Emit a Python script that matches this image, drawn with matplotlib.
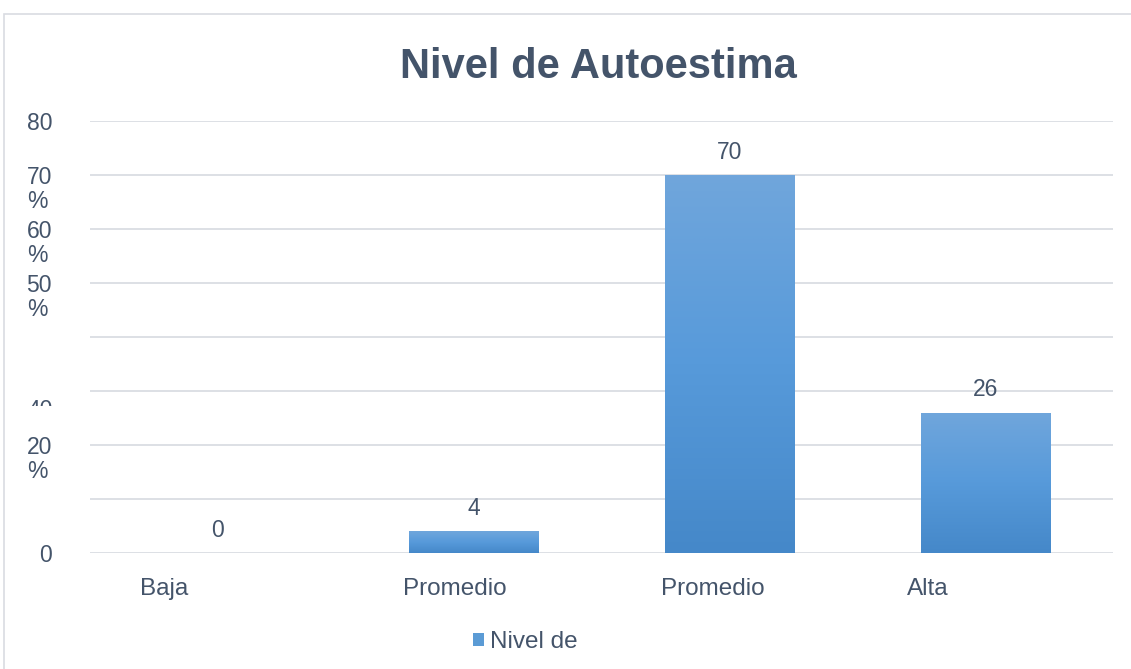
import numpy as np
import matplotlib
matplotlib.use("Agg")
from matplotlib import pyplot as plt
from matplotlib import transforms
from matplotlib.patches import Rectangle
from matplotlib.colors import LinearSegmentedColormap

# data
categories = ["Baja", "Promedio", "Promedio", "Alta"]
values = [0, 4, 70, 26]
series_name = "Nivel de"
title = "Nivel de Autoestima"

# y labels as they appear (broken layout of the original)
ylab_vals = [80, 70, 60, 50, 20, 0]
ylab_text = ["80", "70", "60", "50", "20", "0"]
ylab_pct = [False, True, True, True, True, False]

text_color = "#44546a"
grid_color = "#dadde3"
plt.rcParams['font.family'] = ['Liberation Sans', 'DejaVu Sans']

W, H = 1131, 669
fig = plt.figure(figsize=(W / 100, H / 100), dpi=100)
ax = fig.add_axes([90 / W, 1 - 553 / H, (1113 - 90) / W, (553 - 121) / H])

# outer chart border
fig.patches.append(Rectangle((4 / W, -0.1), 2, (H - 14) / H + 0.1, transform=fig.transFigure,
                             fill=False, edgecolor="#d9dce2", linewidth=1.2))

x = np.arange(len(categories))
bars = ax.bar(x, values, width=0.505, color="#5b9bd5", zorder=2)

# vertical gradient inside each bar
cmap = LinearSegmentedColormap.from_list("g", ["#4588c9", "#579ada", "#70a6dc"])
grad = np.linspace(0, 1, 256).reshape(-1, 1)
for b in bars:
    if b.get_height() <= 0:
        continue
    im = ax.imshow(grad, cmap=cmap, origin="lower", aspect="auto", zorder=3,
                   extent=(b.get_x(), b.get_x() + b.get_width(), 0, b.get_height()))
    im.set_clip_path(b)

ax.set_xlim(-0.5, len(categories) - 0.5)
ax.set_ylim(0, 80)
ax.set_yticks(np.arange(0, 81, 10))
ax.set_yticklabels([])
ax.tick_params(axis='both', length=0)
ax.grid(axis='y', color=grid_color, linewidth=1.3, zorder=0)
for s in ax.spines.values():
    s.set_visible(False)

# category labels, shifted left like the original
offsets = [-0.306, -0.278, -0.266, -0.304]
ax.set_xticks(x + np.array(offsets))
ax.set_xticklabels(categories, ha='left', fontsize=17.5, color=text_color)
ax.tick_params(axis='x', pad=18)

# data labels
ax.bar_label(bars, labels=[str(v) for v in values], padding=8, fontsize=16.5, color=text_color)

# y labels
ytrans = transforms.offset_copy(transforms.blended_transform_factory(fig.transFigure, ax.transData),
                                fig=fig, y=-3, units='dots')
for v, t, p in zip(ylab_vals, ylab_text, ylab_pct):
    fig.text(52 / W, v, t, transform=ytrans, ha='right', va='center', fontsize=16.5, color=text_color)
    if p:
        tr = transforms.offset_copy(ytrans, fig=fig, y=-24, units='dots')
        fig.text(27 / W, v, "%", transform=tr, ha='left', va='center', fontsize=16.5, color=text_color)

# the half-hidden "40"
t40 = fig.text(53 / W, 27.0, "40", transform=ytrans, ha='right', va='center', fontsize=16.5,
               color=text_color, clip_on=True)
t40.set_clip_box(transforms.TransformedBbox(
    transforms.Bbox([[0, 1 - 406 / H], [100 / W, 1 - 392 / H]]), fig.transFigure))

fig.text(598 / W, 1 - 78 / H, title, ha='center', va='baseline', fontsize=30,
         fontweight='bold', color=text_color)

fig.legend([bars[0]], [series_name], loc='center', bbox_to_anchor=(525 / W, 1 - 642 / H),
           frameon=False, fontsize=17.5, handlelength=0.45, handleheight=0.45,
           handletextpad=0.25, labelcolor=text_color)

fig.savefig("out.png", dpi=100)
